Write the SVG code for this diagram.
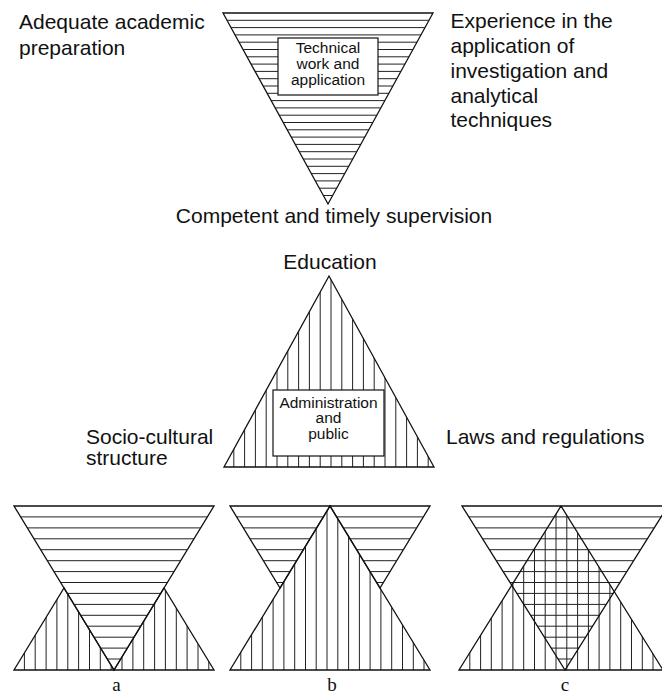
<svg xmlns="http://www.w3.org/2000/svg" width="662" height="696" viewBox="0 0 662 696">
<style>
.lbl{font-family:"Liberation Sans",Arial,Helvetica,sans-serif;font-size:21px;fill:#111}
.mid{text-anchor:middle}
.box{font-family:"Liberation Sans",Arial,Helvetica,sans-serif;font-size:15.5px;fill:#111;text-anchor:middle}
.cap{font-family:"Liberation Serif","Times New Roman",serif;font-size:19px;fill:#111;text-anchor:middle}
.tri{fill:none;stroke:#111;stroke-width:1.3;stroke-linejoin:miter}
.hatch{fill:none;stroke:#222;stroke-width:1}
.bx{fill:#fff;stroke:#111;stroke-width:1.2}
</style>
<defs>
<clipPath id="cTop"><polygon points="223,13 433,13 328,204"/></clipPath>
<clipPath id="cMid"><polygon points="224,467 434,467 329,276"/></clipPath>
<clipPath id="cAInv"><polygon points="14,506 214,506 114,670"/></clipPath>
<clipPath id="cAUp"><polygon points="14,670 114,670 64,588"/><polygon points="114,670 214,670 164,588"/></clipPath>
<clipPath id="cBInv"><polygon points="230,506 330,506 280,588"/><polygon points="330,506 430,506 380,588"/></clipPath>
<clipPath id="cBUp"><polygon points="230,670 430,670 330,506"/></clipPath>
<clipPath id="cCInv"><polygon points="462,506 668,506 565,670"/></clipPath>
<clipPath id="cCUp"><polygon points="459,670 663,670 561,506"/></clipPath>
</defs>

<g id="technical">
<path class="hatch" clip-path="url(#cTop)" d="M223 20.3H433M223 27.6H433M223 34.9H433M223 42.2H433M223 49.5H433M223 56.8H433M223 64.1H433M223 71.4H433M223 78.7H433M223 86H433M223 93.3H433M223 100.6H433M223 107.9H433M223 115.2H433M223 122.5H433M223 129.8H433M223 137.1H433M223 144.4H433M223 151.7H433M223 159H433M223 166.3H433M223 173.6H433M223 180.9H433M223 188.2H433M223 195.5H433"/>
<polygon class="tri" points="223,13 433,13 328,204"/>
<rect class="bx" x="278" y="38" width="100" height="57"/>
<text class="box" x="328" y="53">Technical</text>
<text class="box" x="328" y="69">work and</text>
<text class="box" x="328" y="85">application</text>
</g>

<g id="label-academic">
<text class="lbl" x="19" y="29">Adequate academic</text>
<text class="lbl" x="19" y="54.5">preparation</text>
</g>
<g id="label-experience">
<text class="lbl" x="450.5" y="27.5">Experience in the</text>
<text class="lbl" x="450.5" y="52.5">application of</text>
<text class="lbl" x="450.5" y="77.5">investigation and</text>
<text class="lbl" x="450.5" y="102.5">analytical</text>
<text class="lbl" x="450.5" y="127">techniques</text>
</g>
<g id="label-supervision">
<text class="lbl mid" x="334" y="222.5">Competent and timely supervision</text>
</g>

<g id="administration">
<path class="hatch" clip-path="url(#cMid)" d="M233.8 276V467M244.6 276V467M255.4 276V467M266.2 276V467M277 276V467M287.8 276V467M298.6 276V467M309.4 276V467M320.2 276V467M331 276V467M341.8 276V467M352.6 276V467M363.4 276V467M374.2 276V467M385 276V467M395.8 276V467M406.6 276V467M417.4 276V467M428.2 276V467"/>
<polygon class="tri" points="224,467 434,467 329,276"/>
<rect class="bx" x="273" y="390" width="111" height="66"/>
<text class="box" x="328.5" y="407.5">Administration</text>
<text class="box" x="328.5" y="423.3">and</text>
<text class="box" x="328.5" y="439">public</text>
</g>

<g id="label-education">
<text class="lbl mid" x="330" y="269.3">Education</text>
</g>
<g id="label-sociocultural">
<text class="lbl" x="86" y="444">Socio-cultural</text>
<text class="lbl" x="86" y="465">structure</text>
</g>
<g id="label-laws">
<text class="lbl" x="446" y="443.5">Laws and regulations</text>
</g>

<g id="panel-a">
<path class="hatch" clip-path="url(#cAInv)" d="M14 516.9H214M14 527.9H214M14 538.8H214M14 549.7H214M14 560.7H214M14 571.6H214M14 582.5H214M14 593.4H214M14 604.4H214M14 615.3H214M14 626.2H214M14 637.2H214M14 648.1H214M14 659H214"/>
<path class="hatch" clip-path="url(#cAUp)" d="M24.4 588V670M35.2 588V670M46.1 588V670M56.9 588V670M67.8 588V670M78.6 588V670M89.5 588V670M100.3 588V670M111.2 588V670M122 588V670M132.9 588V670M143.7 588V670M154.6 588V670M165.4 588V670M176.3 588V670M187.1 588V670M198 588V670M208.8 588V670"/>
<polygon class="tri" points="14,506 214,506 114,670"/>
<polygon class="tri" points="14,670 114,670 64,588"/>
<polygon class="tri" points="114,670 214,670 164,588"/>
<text class="cap" x="116.5" y="691">a</text>
</g>

<g id="panel-b">
<path class="hatch" clip-path="url(#cBInv)" d="M230 516.9H430M230 527.9H430M230 538.8H430M230 549.7H430M230 560.7H430M230 571.6H430M230 582.5H430"/>
<path class="hatch" clip-path="url(#cBUp)" d="M240.8 506V670M251.6 506V670M262.3 506V670M273.1 506V670M283.9 506V670M294.7 506V670M305.5 506V670M316.2 506V670M327 506V670M337.8 506V670M348.6 506V670M359.4 506V670M370.1 506V670M380.9 506V670M391.7 506V670M402.5 506V670M413.3 506V670M424 506V670"/>
<polygon class="tri" points="230,506 330,506 280,588"/>
<polygon class="tri" points="330,506 430,506 380,588"/>
<polygon class="tri" points="230,670 430,670 330,506"/>
<text class="cap" x="332" y="691">b</text>
</g>

<g id="panel-c">
<path class="hatch" clip-path="url(#cCInv)" d="M459 516.9H668M459 527.9H668M459 538.8H668M459 549.7H668M459 560.7H668M459 571.6H668M459 582.5H668M459 593.4H668M459 604.4H668M459 615.3H668M459 626.2H668M459 637.2H668M459 648.1H668M459 659H668"/>
<path class="hatch" clip-path="url(#cCUp)" d="M469.8 506V670M480.6 506V670M491.3 506V670M502.1 506V670M512.9 506V670M523.7 506V670M534.5 506V670M545.2 506V670M556 506V670M566.8 506V670M577.6 506V670M588.4 506V670M599.1 506V670M609.9 506V670M620.7 506V670M631.5 506V670M642.3 506V670M653 506V670"/>
<polygon class="tri" points="462,506 668,506 565,670"/>
<polygon class="tri" points="459,670 663,670 561,506"/>
<text class="cap" x="565" y="691">c</text>
</g>

<g id="connectors"></g>
</svg>
